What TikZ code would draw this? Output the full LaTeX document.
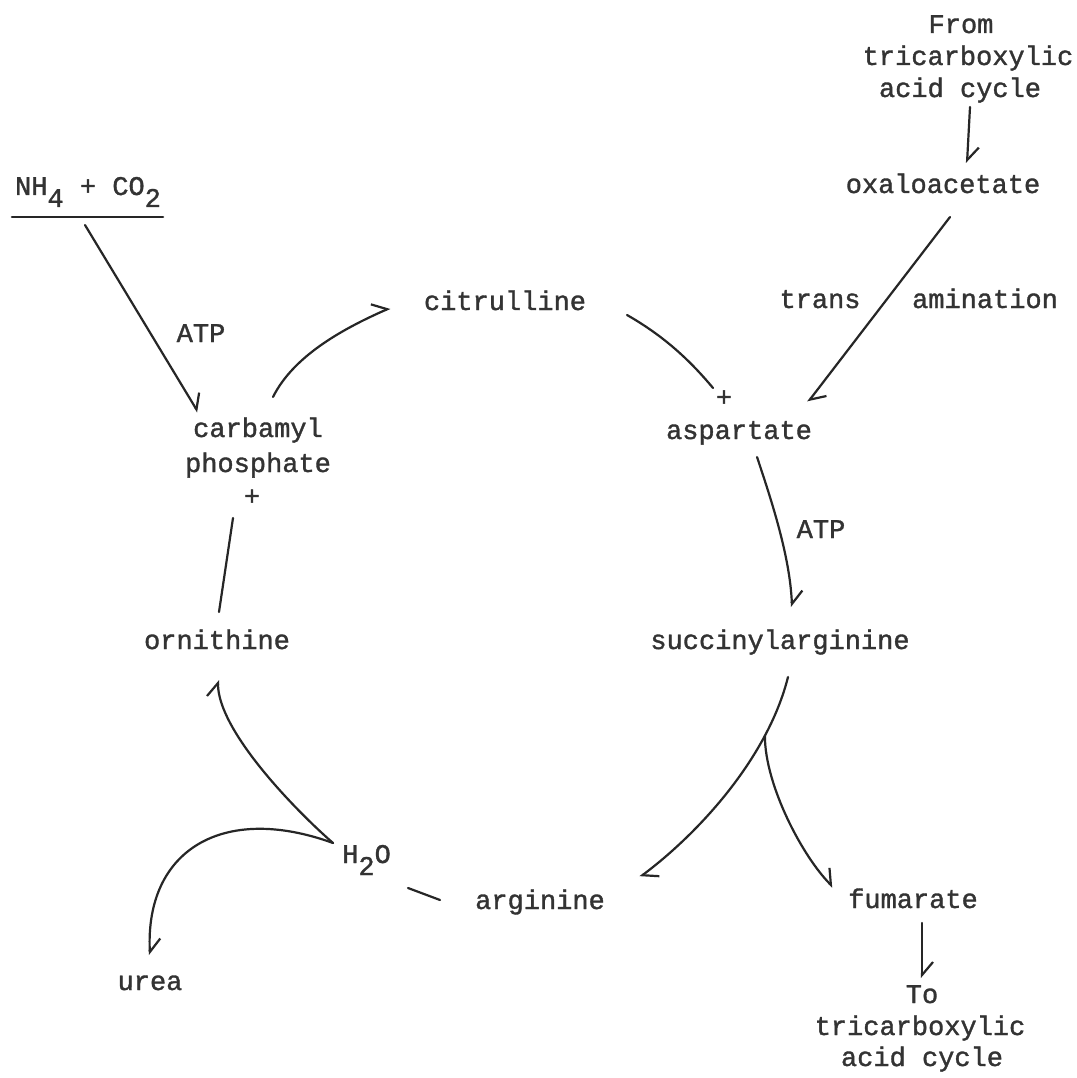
\documentclass[tikz,border=0pt]{standalone}
\usepackage{fontspec}
\setmonofont{Liberation Mono}[FakeBold=1.3]
\usetikzlibrary{arrows.meta}
\newcommand{\lowr}[1]{\raisebox{-12pt}{#1}}
\begin{document}
\begin{tikzpicture}[x=1pt,y=-1pt,
  lbl/.style={inner sep=0pt, anchor=base, font=\ttfamily\fontsize{27}{31.5}\selectfont, text=black!80},
  ln/.style={line width=2.2pt, draw=black!85, line cap=round},
  hp/.style={ln, -{Straight Barb[harpoon,length=13pt,width=22pt,line width=2.2pt]}}]
\useasboundingbox (0,0) rectangle (1076,1078);
\fill[white] (0,0) rectangle (1076,1078);
% labels
\node[lbl] (from1) at (961,33) {From};
\node[lbl] (from2) at (968,65) {tricarboxylic};
\node[lbl] (from3) at (960,97) {acid cycle};
\node[lbl] (oxa) at (943,193) {oxaloacetate};
\node[lbl] (nh) at (88,195) {NH\lowr{4} + CO\lowr{2}};
\node[lbl] (cit) at (505,310) {citrulline};
\node[lbl] (trans) at (820,308) {trans};
\node[lbl] (amin) at (985,308) {amination};
\node[lbl] (atp1) at (201,342) {ATP};
\node[lbl] (atp2) at (821,538) {ATP};
\node[lbl] (carb) at (258,437) {carbamyl};
\node[lbl] (phos) at (258,472) {phosphate};
\node[lbl] (plus1) at (252,505) {+};
\node[lbl] (plus2) at (724,406) {+};
\node[lbl] (asp) at (739,439) {aspartate};
\node[lbl] (orn) at (217,649) {ornithine};
\node[lbl] (succ) at (780,649) {succinylarginine};
\node[lbl, anchor=base west] (water) at (342,863) {H\lowr{2}O};
\node[lbl] (arg) at (540,909) {arginine};
\node[lbl] (fum) at (913,908) {fumarate};
\node[lbl] (urea) at (150,990) {urea};
\node[lbl] (to1) at (922,1003) {To};
\node[lbl] (to2) at (920,1035) {tricarboxylic};
\node[lbl] (to3) at (922,1066) {acid cycle};
% connectors
\draw[hp] ([shift={(10,10)}]from3.base) -- ([shift={(24,-30)}]oxa.base);
\draw[hp] ([shift={(7,24)}]oxa.base) -- ([shift={(69,-37)}]asp.base);
\draw[ln, line width=2.6pt] ([shift={(-76,22)}]nh.base) -- ([shift={(75,22)}]nh.base);
\draw[hp] ([shift={(-3,30)}]nh.base) -- ([shift={(-60,-25)}]carb.base);
\draw[hp] ([shift={(15,-40)}]carb.base) .. controls +(20,-40) and +(-50,22) .. ([shift={(-115,-2)}]cit.base);
\draw[ln] ([shift={(122,5)}]cit.base) .. controls +(35,20) and +(-25,-30) .. ([shift={(-11,-18)}]plus2.base);
\draw[hp] ([shift={(18,18)}]asp.base) .. controls +(15,45) and +(-2,-50) .. ([shift={(12,-42)}]succ.base);
\draw[hp] ([shift={(8,28)}]succ.base) .. controls +(-20,80) and +(60,-45) .. ([shift={(100,-32)}]arg.base) coordinate[pos=0.25] (br);
\draw[hp] (br) .. controls +(0,50) and +(-30,-30) .. ([shift={(-80,-21)}]fum.base);
\draw[hp] ([shift={(9,15)}]fum.base) -- ([shift={(0,-25)}]to1.base);
\draw[ln] ([shift={(2,-37)}]orn.base) -- ([shift={(-19,13)}]plus1.base);
\coordinate (wc) at ([shift={(-9,-20)}]water.base west);
\draw[hp] (wc) .. controls +(-40,-35) and +(0,50) .. ([shift={(1,31)}]orn.base);
\draw[hp] (wc) .. controls +(-110,-40) and +(-5,-105) .. ([shift={(0,-35)}]urea.base);
\draw[ln] ([shift={(-100,-9)}]arg.base) -- ([shift={(66,25)}]water.base west);
\end{tikzpicture}
\end{document}
